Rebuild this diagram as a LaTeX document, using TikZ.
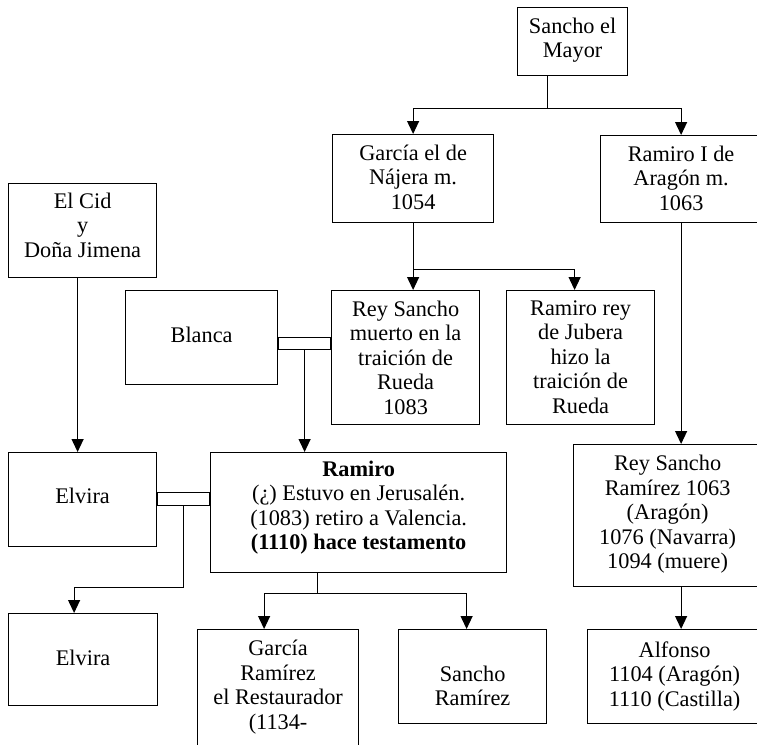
\documentclass[tikz,border=0pt]{standalone}
\usepackage{fontspec}
\setmainfont{Liberation Serif}
\usetikzlibrary{positioning,calc,arrows.meta}
\newcommand{\letra}{\fontsize{22.3}{24.5}\selectfont}

\begin{document}
\begin{tikzpicture}[x=1pt,y=-1pt,line width=1.2pt,
  caja/.style={draw,anchor=north west,inner sep=0pt},
  texto/.style={align=center,inner sep=0pt,font=\letra,execute at begin node=\strut},
  flecha/.style={-{Triangle[length=13pt,width=12pt]}}]
\clip (0,0) rectangle (757,744);
% cajas
\node[caja,minimum width=110pt,minimum height=68pt]  (may)  at (517,7)   {};
\node[caja,minimum width=161pt,minimum height=88pt]  (gna)  at (332,134) {};
\node[caja,minimum width=161pt,minimum height=87pt]  (rami) at (600,135) {};
\node[caja,minimum width=148pt,minimum height=94pt]  (cid)  at (8,183)   {};
\node[caja,minimum width=152pt,minimum height=94pt]  (bla)  at (125,290) {};
\node[caja,minimum width=148pt,minimum height=134pt] (rsm)  at (331,290) {};
\node[caja,minimum width=148pt,minimum height=134pt] (jub)  at (506,290) {};
\node[caja,minimum width=148pt,minimum height=94pt]  (elv)  at (8,452)   {};
\node[caja,minimum width=296pt,minimum height=120pt] (ram)  at (210,452) {};
\node[caja,minimum width=188pt,minimum height=142pt] (rsr)  at (573,444) {};
\node[caja,minimum width=149pt,minimum height=92pt]  (elv2) at (8,613)   {};
\node[caja,minimum width=161pt,minimum height=130pt] (gra)  at (197,629) {};
\node[caja,minimum width=148pt,minimum height=94pt]  (sra)  at (398,629) {};
\node[caja,minimum width=174pt,minimum height=94pt]  (alf)  at (587,629) {};
% textos
\node[texto,below=10.3pt of may.north]  (may-t)  {Sancho el\\Mayor};
\node[texto,below=10.3pt of gna.north]  (gna-t)  {García el de\\Nájera m.\\1054};
\node[texto,below=10.3pt of rami.north] (rami-t) {Ramiro I de\\Aragón m.\\1063};
\node[texto,below=9pt of cid.north]     (cid-t)  {El Cid\\y\\Doña Jimena};
\node[texto,below=35pt of bla.north]    (bla-t)  {Blanca};
\node[texto,below=10pt of rsm.north]    (rsm-t)  {Rey Sancho\\muerto en la\\traición de\\Rueda\\1083};
\node[texto,below=10pt of jub.north]    (jub-t)  {Ramiro rey\\de Jubera\\hizo la\\traición de\\Rueda};
\node[texto,below=34pt of elv.north]    (elv-t)  {Elvira};
\node[texto,below=8pt of ram.north]     (ram-t)  {\textbf{Ramiro}\\(¿) Estuvo en Jerusalén.\\(1083) retiro a Valencia.\\\textbf{(1110) hace testamento}};
\node[texto,below=10.8pt of rsr.north]  (rsr-t)  {Rey Sancho\\Ramírez 1063\\(Aragón)\\1076 (Navarra)\\1094 (muere)};
\node[texto,below=35pt of elv2.north]   (elv2-t) {Elvira};
\node[texto,below=10.8pt of gra.north]  (gra-t)  {García\\Ramírez\\el Restaurador\\(1134-};
\node[texto,below=36pt of sra.north]    (sra-t)  {Sancho\\Ramírez};
\node[texto,below=11.8pt of alf.north]  (alf-t)  {Alfonso\\1104 (Aragón)\\1110 (Castilla)};
% uniones
\draw (bla.east) rectangle ([yshift=-12pt]bla.east -| rsm.west);
\draw ([yshift=7pt]elv.east) rectangle ([yshift=-6pt]elv.east -| ram.west);
\coordinate (boda1) at ([yshift=-12pt]$(bla.east)!.5!(bla.east -| rsm.west)$);
\coordinate (boda2) at ([yshift=-6pt]$(elv.east)!.5!(elv.east -| ram.west)$);
\coordinate (m1) at ($(gna.north)!.5!(rami.north)+(0,-26)$);
\coordinate (n1) at ([yshift=-46pt]gna.south);
\coordinate (r1) at ([xshift=-41pt,yshift=-20pt]ram.south);
\coordinate (e1) at ([yshift=-82pt]boda2);
% lineas
\draw (m1 |- may.south) -- (m1);
\draw[flecha] (m1) -| (gna);
\draw[flecha] (m1) -| (rami);
\draw[flecha] (gna.south) -- (gna.south |- rsm.north);
\draw[flecha] (n1) -| ([xshift=-6pt]jub.north);
\draw[flecha] ([xshift=-5pt]cid.south) -- ([xshift=-5pt]cid.south |- elv.north);
\draw[flecha] (boda1) -- (boda1 |- ram.north);
\draw[flecha] (rami.south) -- (rami.south |- rsr.north);
\draw[flecha] (rami.south |- rsr.south) -- (rami.south |- alf.north);
\draw[flecha] (boda2) -- (e1) -| ([xshift=-9pt]elv2.north);
\draw (r1 |- ram.south) -- (r1);
\draw[flecha] (r1) -| ([xshift=-14pt]gra.north);
\draw[flecha] (r1) -| ([xshift=-6pt]sra.north);
\end{tikzpicture}
\end{document}
